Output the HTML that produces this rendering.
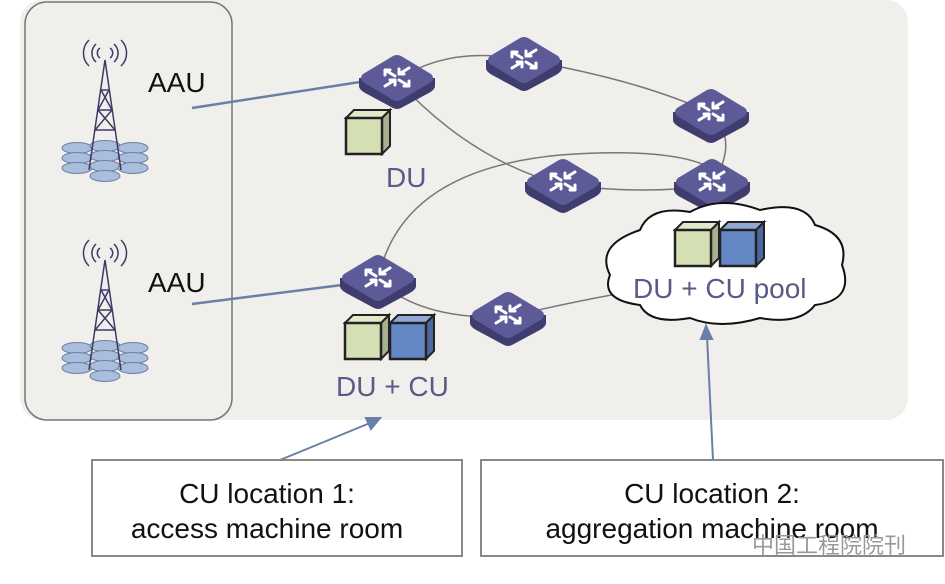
<!DOCTYPE html>
<html><head><meta charset="utf-8"><style>
html,body{margin:0;padding:0;background:#fff;}
svg{display:block;font-family:"Liberation Sans",sans-serif;}
</style></head><body>
<svg width="945" height="584" viewBox="0 0 945 584" xmlns="http://www.w3.org/2000/svg">
<defs>
<g id="router">
<path d="M-38,2 L-38,10 Q-38,14 -30,18 L-4,32 Q0,34 4,32 L30,18 Q38,14 38,10 L38,2 Z" fill="#3f3d6e"/>
<path d="M-34,-2 Q-38,2 -34,6 L-4,24 Q0,26 4,24 L34,6 Q38,2 34,-2 L4,-20 Q0,-22 -4,-20 Z" fill="#5d5a98"/>
<g stroke="#fff" stroke-width="3" fill="none" stroke-linecap="round">
<path d="M-12,-6 L-2,0 M-12,-6 l0,5 M-12,-6 l5,0"/>
<path d="M12,-6 L2,0 M2,0 l0,-5 M2,0 l5,0" transform="translate(0,-2)"/>
<path d="M-12,10 L-2,4 M-2,4 l-5,0 M-2,4 l0,5"/>
<path d="M2,4 L12,10 M12,10 l0,-5 M12,10 l-5,0"/>
</g>
</g>
<g id="gcube">
<path d="M0,8 L8,0 L44,0 L36,8 Z" fill="#e2e8c8" stroke="#222" stroke-width="2"/>
<path d="M36,8 L44,0 L44,36 L36,44 Z" fill="#a8b090" stroke="#222" stroke-width="2"/>
<rect x="0" y="8" width="36" height="36" fill="#d4e0b4" stroke="#222" stroke-width="2.5"/>
</g>
<g id="bcube">
<path d="M0,8 L8,0 L44,0 L36,8 Z" fill="#8fa8d6" stroke="#222" stroke-width="2"/>
<path d="M36,8 L44,0 L44,36 L36,44 Z" fill="#4d68a0" stroke="#222" stroke-width="2"/>
<rect x="0" y="8" width="36" height="36" fill="#6388c4" stroke="#222" stroke-width="2.5"/>
</g>
<g id="tower">
<g fill="#a9bddd" stroke="#6e7fa0" stroke-width="1">
<ellipse cx="-28" cy="78" rx="15" ry="5.5"/><ellipse cx="0" cy="76" rx="15" ry="5.5"/><ellipse cx="28" cy="78" rx="15" ry="5.5"/>
<ellipse cx="-28" cy="88" rx="15" ry="5.5"/><ellipse cx="0" cy="86" rx="15" ry="5.5"/><ellipse cx="28" cy="88" rx="15" ry="5.5"/>
<ellipse cx="-28" cy="98" rx="15" ry="5.5"/><ellipse cx="0" cy="96" rx="15" ry="5.5"/><ellipse cx="28" cy="98" rx="15" ry="5.5"/>
<ellipse cx="0" cy="106" rx="15" ry="5.5"/>
</g>
<g stroke="#3c3a66" stroke-width="1.5" fill="none">
<path d="M0,-10 L-16,100 M0,-10 L16,100"/>
<path d="M-4,20 L4,20 M-7,40 L7,40 M-10,60 L10,60 M-4,20 L7,40 M4,20 L-7,40 M-7,40 L10,60 M7,40 L-10,60"/>
<path d="M-9,-26 A12,12 0 0 0 -9,-8 M9,-26 A12,12 0 0 1 9,-8 M-16,-30 A18,18 0 0 0 -16,-4 M16,-30 A18,18 0 0 1 16,-4 M-5,-22 A6,6 0 0 0 -5,-12 M5,-22 A6,6 0 0 1 5,-12"/>
</g>
</g>
</defs>
<rect x="20" y="0" width="888" height="420" rx="22" fill="#f1efec"/>
<rect x="25" y="2" width="207" height="418" rx="22" fill="none" stroke="#777" stroke-width="1.5"/>
<use href="#tower" x="105" y="70"/>
<use href="#tower" x="105" y="270"/>
<text x="148" y="92" font-size="28" fill="#111">AAU</text>
<text x="148" y="292" font-size="28" fill="#111">AAU</text>
<g stroke="#777" stroke-width="1.5" fill="none">
<path d="M397,80 Q450,45 524,60 Q640,80 711,113 Q740,140 712,185 Q650,195 563,185 Q470,160 397,80"/>
<path d="M378,280 Q400,170 560,155 Q700,145 725,180 M378,280 Q420,320 508,317 Q580,300 640,290"/>
</g>
<g stroke="#6a7fa6" stroke-width="2.5">
<line x1="192" y1="108" x2="360" y2="82"/>
<line x1="192" y1="304" x2="342" y2="285"/>
</g>
<use href="#router" x="397" y="76"/>
<use href="#router" x="524" y="58"/>
<use href="#router" x="711" y="110"/>
<use href="#router" x="563" y="180"/>
<use href="#router" x="712" y="180"/>
<use href="#router" x="378" y="276"/>
<use href="#router" x="508" y="313"/>
<use href="#gcube" x="346" y="110"/>
<text x="386" y="187" font-size="28" fill="#5a5a86">DU</text>
<use href="#gcube" x="345" y="315"/>
<use href="#bcube" x="390" y="315"/>
<text x="336" y="396" font-size="28" fill="#5a5a86">DU + CU</text>
<path d="M640,230 Q650,205 690,212 Q720,195 760,210 Q805,200 815,225 Q850,235 842,265 Q855,300 815,305 Q800,325 760,318 Q720,330 690,318 Q650,325 640,305 Q600,300 610,275 Q595,245 640,230 Z" fill="#fff" stroke="#111" stroke-width="2"/>
<use href="#gcube" x="675" y="222"/>
<use href="#bcube" x="720" y="222"/>
<text x="633" y="298" font-size="28" fill="#5a5a86">DU + CU pool</text>
<g stroke="#6a7fa6" stroke-width="2" fill="#6a7fa6">
<line x1="280" y1="460" x2="370" y2="423"/>
<path d="M380,418 L366,418 L371,429 Z"/>
<line x1="713" y1="460" x2="707" y2="336"/>
<path d="M706,326 L701,339 L712,339 Z"/>
</g>
<rect x="92" y="460" width="370" height="96" fill="#fff" stroke="#888" stroke-width="2"/>
<rect x="481" y="460" width="462" height="96" fill="#fff" stroke="#888" stroke-width="2"/>
<g font-size="28" fill="#111" text-anchor="middle">
<text x="267" y="503">CU location 1:</text>
<text x="267" y="538">access machine room</text>
<text x="712" y="503">CU location 2:</text>
<text x="712" y="538">aggregation machine room</text>
</g>
<text x="752" y="553" font-size="22" fill="#999" font-family="'Liberation Sans','Noto Sans CJK SC',sans-serif">中国工程院院刊</text>
</svg>
</body></html>
